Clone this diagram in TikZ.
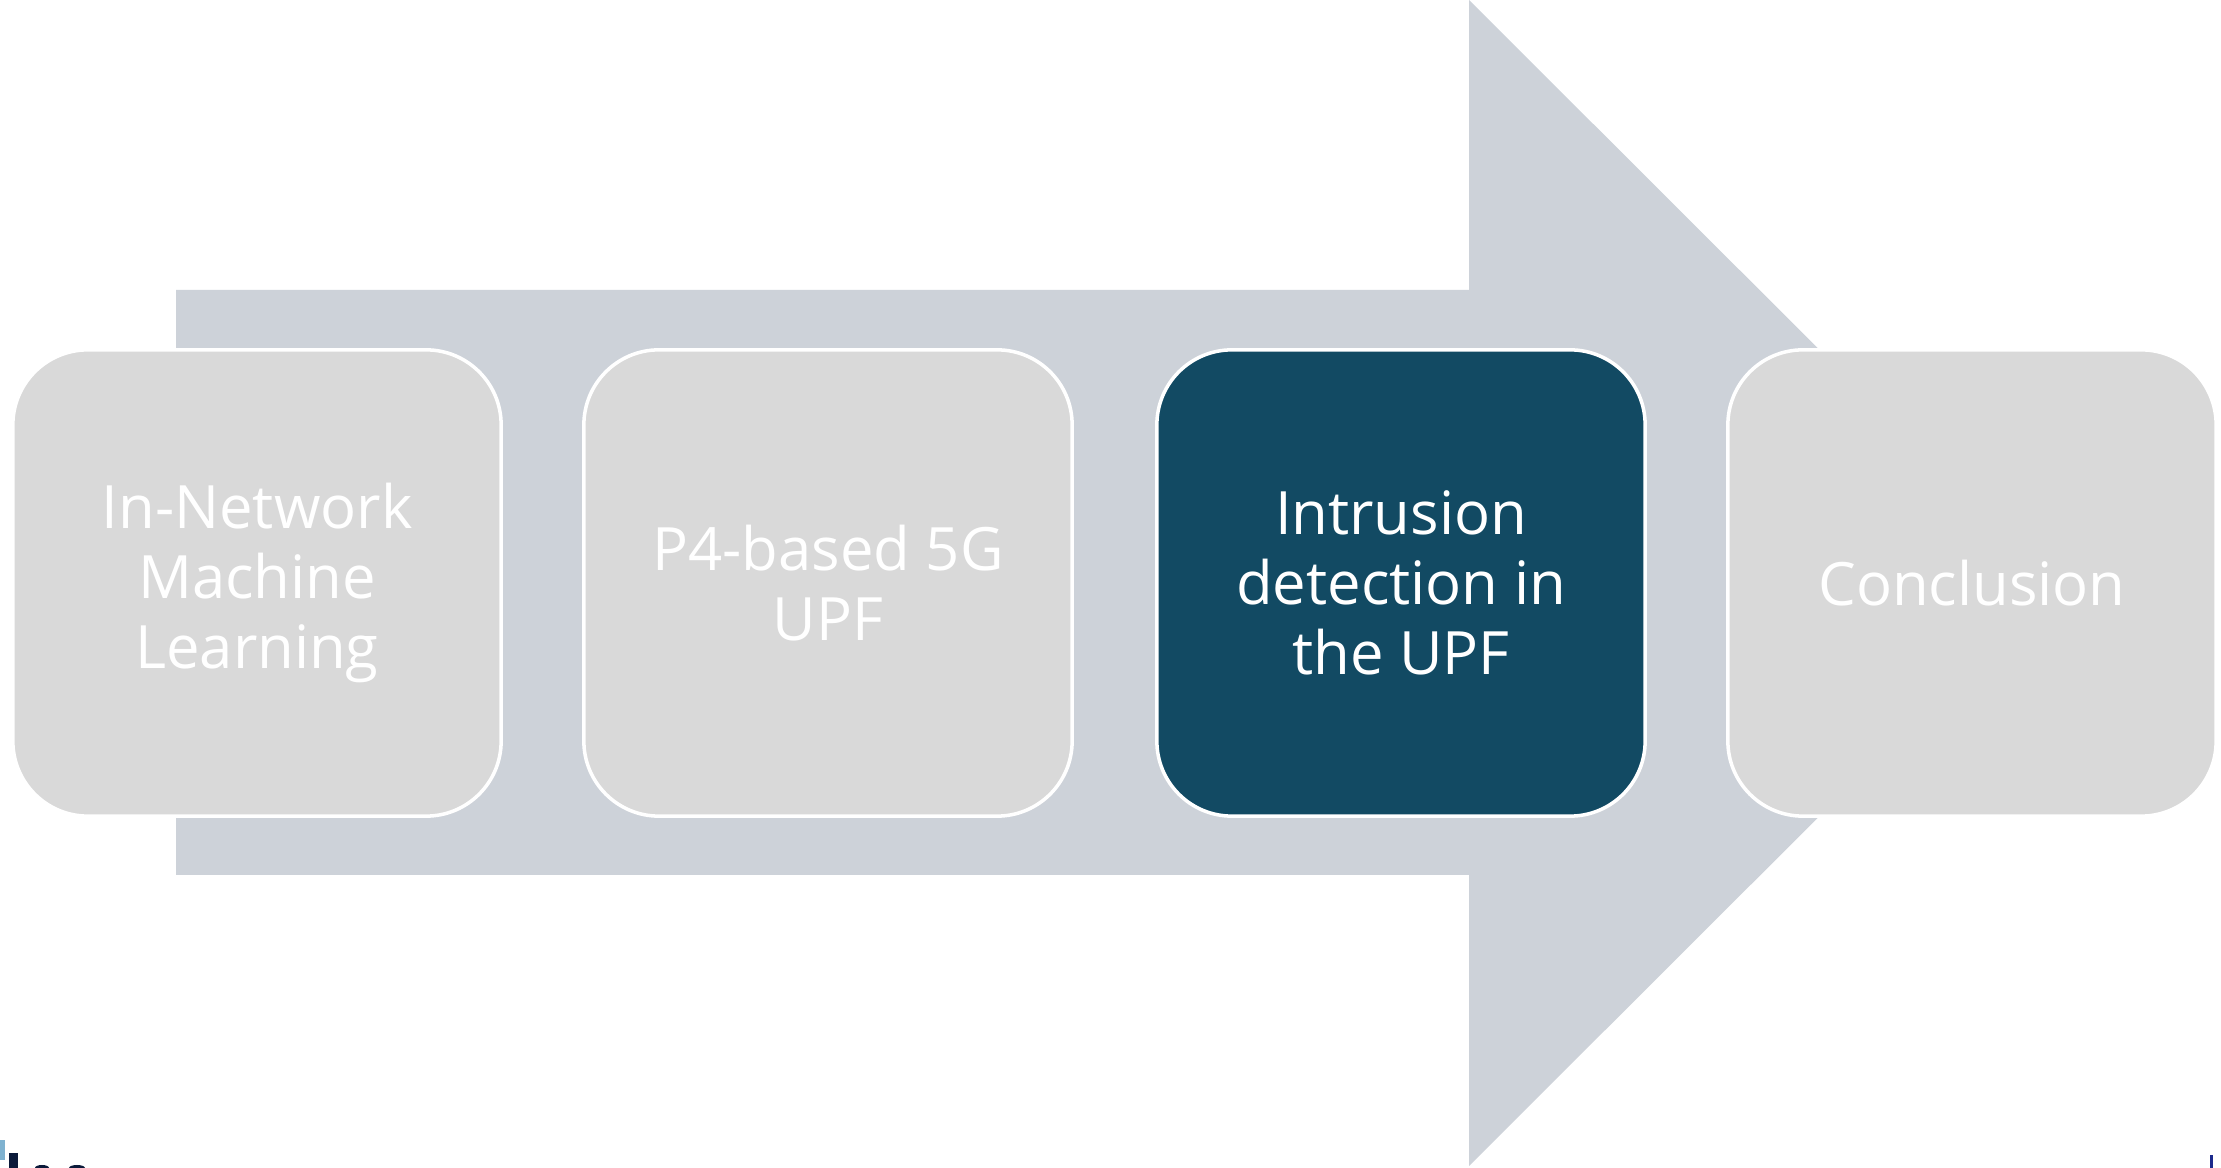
\documentclass[tikz,border=0pt]{standalone}
\usepackage{fontspec}
\setmainfont{Open Sans}
\definecolor{arrowgray}{HTML}{CDD2D9}
\definecolor{boxgray}{HTML}{D9D9D9}
\definecolor{darkteal}{HTML}{124A63}
\definecolor{logoblue}{HTML}{7FB2D0}
\definecolor{logonavy}{HTML}{0B1A3A}
\definecolor{barblue}{HTML}{1C2A8C}
\begin{document}
\begin{tikzpicture}[x=0.01cm,y=-0.01cm,
  stagebox/.style={rectangle, rounded corners=7.5mm, draw=white, line width=1pt,
    minimum width=4.88cm, minimum height=4.66cm, align=center, text=white,
    font=\fontsize{17}{19.9}\selectfont, inner sep=0pt},
  lightbox/.style={stagebox, fill=boxgray},
  darkbox/.style={stagebox, fill=darkteal}]
\useasboundingbox (0,0) rectangle (2221,1168);
\fill[white] (0,0) rectangle (2221,1168);
% big background arrow
\fill[arrowgray] (176,290) -- (1469,290) -- (1469,0) -- (2053,583) -- (1469,1166) -- (1469,875) -- (176,875) -- cycle;
% stages
\node[lightbox] (b1) at (257,583) {In-Network\\Machine\\Learning};
\node[lightbox] (b2) at (828,583) {P4-based 5G\\UPF};
\node[darkbox]  (b3) at (1401,583) {Intrusion\\detection in\\the UPF};
\node[lightbox] (b4) at (1972,583) {Conclusion};
% cut-off fragments at the bottom edge
\fill[logoblue] (0,1140) rectangle (5,1160);
\fill[logonavy] (9,1153) rectangle (18,1168);
\fill[logonavy] (42,1168) ellipse (7 and 3);
\fill[logonavy] (77,1168) ellipse (8 and 3);
\fill[barblue] (2210,1155) rectangle (2213,1168);
\end{tikzpicture}
\end{document}
